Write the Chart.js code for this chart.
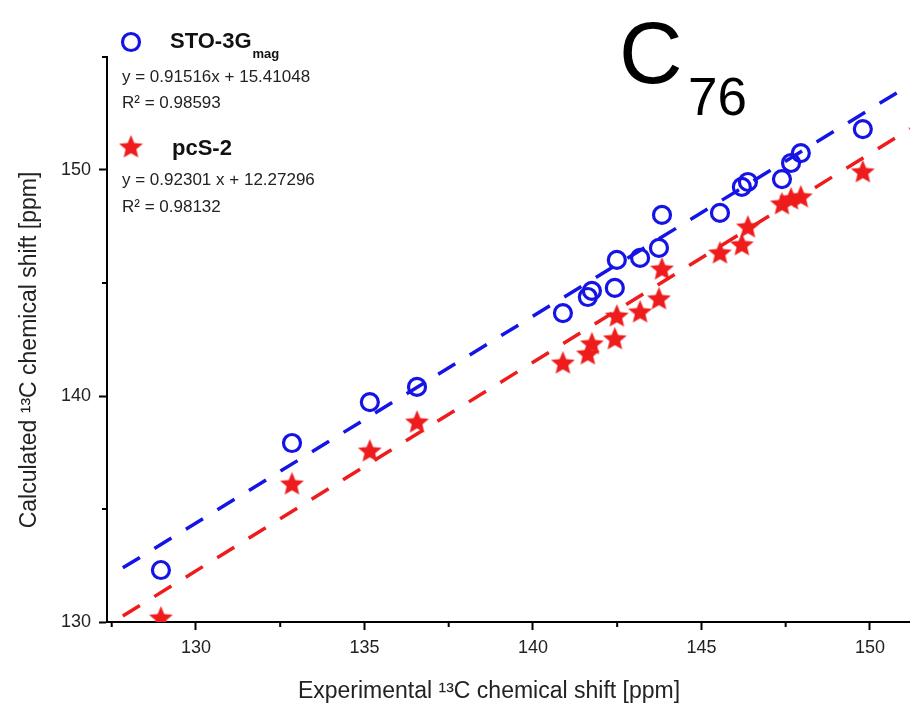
<!DOCTYPE html>
<html>
<head>
<meta charset="utf-8">
<script src="https://cdn.jsdelivr.net/npm/chart.js@4/dist/chart.umd.min.js"></script>
<style>
  html, body { margin: 0; padding: 0; background: #fff; overflow: hidden; }
  #wrap { width: 910px; height: 709px; position: relative; overflow: hidden; }
  canvas { display: block; }
</style>
</head>
<body>
<div id="wrap"><canvas id="shiftChart"></canvas></div>
<script>
// Experimental 13C shifts of C76 (x values)
const experimental = [128.96, 132.85, 135.16, 136.56, 140.89, 141.63, 141.75, 142.43, 142.49, 143.18,
  143.74, 143.83, 145.55, 146.20, 146.38, 147.39, 147.66, 147.95, 149.79];

// Calculated shifts for each basis set
const sto3gMag = [132.30, 137.92, 139.73, 140.40, 143.67, 144.38, 144.65, 144.78, 146.02, 146.11,
  146.55, 148.01, 148.10, 149.25, 149.47, 149.60, 150.31, 150.75, 151.81];
const pcS2 = [130.22, 136.15, 137.61, 138.89, 141.50, 141.90, 142.35, 142.57, 143.58, 143.76,
  144.34, 145.66, 146.37, 146.73, 147.52, 148.54, 148.76, 148.85, 149.96];

// Linear fits as printed in the legend
const fitSlope = [0.91516, 0.92301];
const fitIntercept = [15.41048, 12.27296];
const fitRange = [127.83, 151.19];

const seriesNames = ["STO-3G", "pcS-2"];
const fitLabels = ["y = 0.91516x + 15.41048", "y = 0.92301 x + 12.27296"];
const r2Labels = ["0.98593", "0.98132"];
const xTitle = "Experimental \u00b9\u00b3C chemical shift [ppm]";
const yTitle = "Calculated \u00b9\u00b3C chemical shift [ppm]";

const BLUE = "#1414e6";
const RED = "#ee1c1c";
const FONT = "'Liberation Sans', Arial, sans-serif";

// filled five-point star used as point style
function makeStar(size, color) {
  const c = document.createElement("canvas");
  c.width = size;
  c.height = size;
  const g = c.getContext("2d");
  const R = size / 2, r = R * 0.45;
  g.beginPath();
  for (let i = 0; i < 10; i++) {
    const rad = i % 2 ? r : R;
    const a = -Math.PI / 2 + (i * Math.PI) / 5;
    g.lineTo(R + rad * Math.cos(a), R + 1.5 + rad * Math.sin(a));
  }
  g.closePath();
  g.fillStyle = color;
  g.fill();
  return c;
}
const starImg = makeStar(25, RED);

function points(ys) {
  return experimental.map((x, i) => ({ x: x, y: ys[i] }));
}
function fitLine(k) {
  return fitRange.map((x) => ({ x: x, y: fitSlope[k] * x + fitIntercept[k] }));
}

// minor ticks, axis titles, legend block and the C76 label
const decorations = {
  id: "decorations",
  afterDraw(chart) {
    const ctx = chart.ctx;
    const xs = chart.scales.x, ys = chart.scales.y;
    ctx.save();
    ctx.strokeStyle = "#000";
    ctx.lineWidth = 2;
    for (let v = 127.5; v < xs.max; v += 5) {
      const px = xs.getPixelForValue(v);
      ctx.beginPath();
      ctx.moveTo(px, ys.bottom);
      ctx.lineTo(px, ys.bottom + 5);
      ctx.stroke();
    }
    for (let v = 135; v <= ys.max; v += 10) {
      const py = ys.getPixelForValue(v);
      ctx.beginPath();
      ctx.moveTo(xs.left, py);
      ctx.lineTo(xs.left - 5, py);
      ctx.stroke();
    }

    // axis titles
    ctx.fillStyle = "#222";
    ctx.font = "23px " + FONT;
    ctx.textAlign = "center";
    ctx.textBaseline = "middle";
    ctx.fillText(xTitle, 489, 692);
    ctx.save();
    ctx.translate(30, 350);
    ctx.rotate(-Math.PI / 2);
    ctx.fillText(yTitle, 0, 0);
    ctx.restore();

    // legend markers
    ctx.strokeStyle = BLUE;
    ctx.lineWidth = 3.2;
    ctx.beginPath();
    ctx.arc(131, 42, 8.5, 0, Math.PI * 2);
    ctx.stroke();
    ctx.drawImage(starImg, 131 - 12.5, 146 - 12.5);

    ctx.fillStyle = "#111";
    ctx.textBaseline = "alphabetic";
    ctx.textAlign = "left";
    ctx.font = "bold 22px " + FONT;
    ctx.fillText(seriesNames[0], 170, 48);
    const w0 = ctx.measureText(seriesNames[0]).width;
    ctx.font = "bold 13px " + FONT;
    ctx.fillText("mag", 170 + w0 + 1, 58);
    ctx.font = "bold 22px " + FONT;
    ctx.fillText(seriesNames[1], 172, 155);

    ctx.fillStyle = "#222";
    ctx.font = "17px " + FONT;
    ctx.fillText(fitLabels[0], 122, 82);
    ctx.fillText("R\u00b2 = " + r2Labels[0], 122, 108);
    ctx.fillText(fitLabels[1], 122, 185);
    ctx.fillText("R\u00b2 = " + r2Labels[1], 122, 212);

    ctx.fillStyle = "#000";
    ctx.font = "88px " + FONT;
    ctx.fillText("C", 619, 83);
    ctx.font = "53px " + FONT;
    ctx.fillText("76", 688, 115);
    ctx.restore();
  },
};

new Chart(document.getElementById("shiftChart"), {
  type: "scatter",
  data: {
    datasets: [
      {
        data: fitLine(0),
        showLine: true,
        borderColor: BLUE,
        borderWidth: 3.5,
        borderDash: [20, 17],
        pointRadius: 0,
        fill: false,
      },
      {
        data: fitLine(1),
        showLine: true,
        borderColor: RED,
        borderWidth: 3.5,
        borderDash: [20, 17],
        pointRadius: 0,
        fill: false,
      },
      {
        label: seriesNames[0],
        data: points(sto3gMag),
        pointStyle: "circle",
        pointRadius: 8.5,
        pointBorderWidth: 3.2,
        borderColor: BLUE,
        backgroundColor: "rgba(0,0,0,0)",
      },
      {
        label: seriesNames[1],
        data: points(pcS2),
        pointStyle: starImg,
        pointRadius: 12,
      },
    ],
  },
  options: {
    responsive: true,
    maintainAspectRatio: false,
    animation: false,
    layout: { autoPadding: false, padding: { top: 57, right: 0, left: 0, bottom: 0 } },
    plugins: {
      legend: { display: false },
      tooltip: { enabled: false },
    },
    scales: {
      x: {
        type: "linear",
        min: 127.36,
        max: 151.19,
        afterFit: (s) => { s.height = 87; },
        ticks: {
          stepSize: 5,
          includeBounds: false,
          padding: 7,
          color: "#222",
          font: { family: FONT, size: 18 },
        },
        grid: {
          display: true,
          drawOnChartArea: false,
          drawTicks: true,
          tickLength: 8,
          tickWidth: 2,
          tickColor: "#000",
        },
        border: { display: true, color: "#000", width: 2 },
        title: { display: false },
      },
      y: {
        type: "linear",
        min: 130,
        max: 155,
        afterFit: (s) => { s.width = 107; },
        ticks: {
          stepSize: 10,
          includeBounds: false,
          padding: 8,
          color: "#222",
          font: { family: FONT, size: 18 },
        },
        grid: {
          display: true,
          drawOnChartArea: false,
          drawTicks: true,
          tickLength: 8,
          tickWidth: 2,
          tickColor: "#000",
        },
        border: { display: true, color: "#000", width: 2 },
        title: { display: false },
      },
    },
  },
  plugins: [decorations],
});
</script>
</body>
</html>
